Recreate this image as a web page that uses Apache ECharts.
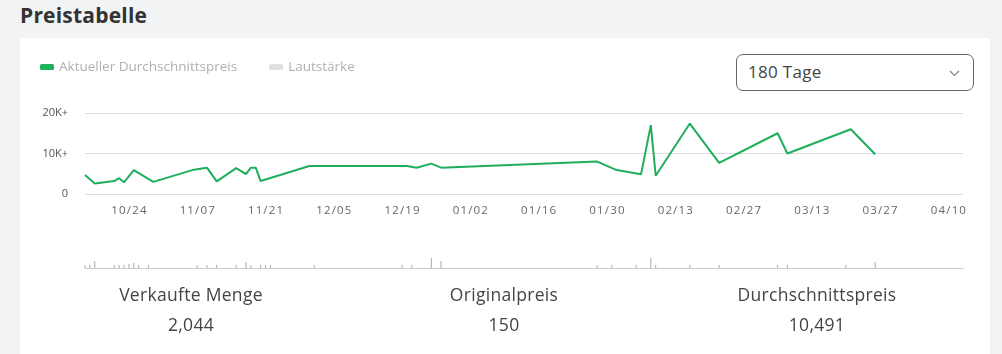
<!DOCTYPE html>
<html>
<head>
<meta charset="utf-8">
<script src="https://cdn.jsdelivr.net/npm/echarts@6/dist/echarts.min.js"></script>
<style>
  html, body { margin: 0; padding: 0; width: 1002px; height: 354px; overflow: hidden; background: #f2f3f5; font-family: "Open Sans", Lato, sans-serif; }
  #title { position: absolute; left: 20px; top: 1px; font-size: 21px; font-weight: 700; color: #333; letter-spacing: 0.2px; }
  #card { position: absolute; left: 20px; top: 38px; width: 970px; height: 330px; background: #fff; border-radius: 3px; }
  #chart { position: absolute; left: 20px; top: 38px; width: 970px; height: 250px; }
  #dropdown { position: absolute; left: 736px; top: 54px; width: 236px; height: 35px; border: 1px solid #666; border-radius: 7px; background: #fff; box-sizing: content-box; }
  #dropdown span { position: absolute; left: 11px; top: 5px; font-size: 17px; color: #444; letter-spacing: 0.3px; }
  #dropdown svg { position: absolute; right: 13px; top: 15px; }
  .stat { position: absolute; width: 260px; text-align: center; color: #444; font-size: 17.5px; letter-spacing: 0.3px; }
  .lab { top: 282px; }
  .val { top: 312px; }
</style>
</head>
<body>
<div id="title">Preistabelle</div>
<div id="card"></div>
<div id="chart"></div>
<div id="dropdown"><span>180 Tage</span>
  <svg width="11" height="7" viewBox="0 0 11 7"><polyline points="1,1 5.5,5.5 10,1" fill="none" stroke="#888" stroke-width="1.2"/></svg>
</div>
<div class="stat lab" style="left:61px">Verkaufte Menge</div>
<div class="stat val" style="left:61px">2,044</div>
<div class="stat lab" style="left:374px">Originalpreis</div>
<div class="stat val" style="left:374px">150</div>
<div class="stat lab" style="left:687px">Durchschnittspreis</div>
<div class="stat val" style="left:687px">10,491</div>
<script>
// Axis range (first and last day shown) and tick labels
const startDate = '2024-10-15';
const endDate = '2025-04-13';
const tickLabels = ['10/24','11/07','11/21','12/05','12/19','01/02','01/16','01/30','02/13','02/27','03/13','03/27','04/10'];

// Average price series
const priceDates  = ['10/15','10/17','10/21','10/22','10/23','10/25','10/29','11/06','11/09','11/11','11/15','11/17','11/18','11/19','11/20','11/30','12/20','12/22','12/25','12/27','01/28','02/01','02/06','02/08','02/09','02/16','02/22','03/06','03/08','03/21','03/26'];
const priceValues = [4700,2600,3200,3900,2900,5900,3000,5900,6500,3100,6400,4900,6500,6500,3200,6900,6900,6500,7500,6500,8000,5900,4900,17000,4500,17400,7700,15000,10000,16000,9800];

// Volume series
const volDates  = ['10/15','10/16','10/17','10/21','10/22','10/23','10/24','10/25','10/26','10/28','11/07','11/09','11/11','11/15','11/17','11/18','11/20','11/21','11/22','12/01','12/19','12/21','12/25','12/27','01/28','01/31','02/05','02/08','02/09','02/16','02/22','03/06','03/08','03/20','03/26'];
const volValues = [3,3,7,3,3,3,4,5,3,3,3,3,3,3,6,3,3,3,3,3,3,3,10,7,3,3,3,10,3,3,3,3,3,3,6];

// Build category list (one per day)
const categories = [];
{
  const d = new Date(startDate + 'T00:00:00Z');
  const e = new Date(endDate + 'T00:00:00Z');
  while (d <= e) {
    const mm = String(d.getUTCMonth() + 1).padStart(2, '0');
    const dd = String(d.getUTCDate()).padStart(2, '0');
    categories.push(mm + '/' + dd);
    d.setUTCDate(d.getUTCDate() + 1);
  }
}
const tickSet = new Set(tickLabels);

const chart = echarts.init(document.getElementById('chart'));
const FONT = '"Open Sans", Lato, sans-serif';
chart.setOption({
  animation: false,
  textStyle: { fontFamily: FONT },
  legend: {
    left: 15, top: 17,
    itemWidth: 14, itemHeight: 6, itemGap: 32,
    textStyle: { color: '#b0b0b0', fontSize: 13.5, fontFamily: FONT },
    data: [
      { name: 'Aktueller Durchschnittspreis', icon: 'roundRect', itemStyle: { color: '#1db35c' } },
      { name: 'Lautstärke', icon: 'roundRect', itemStyle: { color: '#e0e0e0' } }
    ]
  },
  grid: [
    { left: 65, width: 878, top: 75, height: 81 },
    { left: 65, width: 878, top: 210, height: 20 }
  ],
  xAxis: [
    {
      type: 'category', gridIndex: 0, data: categories, boundaryGap: false,
      axisLine: { show: false }, axisTick: { show: false },
      axisLabel: {
        color: '#666', fontSize: 11.5, margin: 11, fontFamily: FONT,
        interval: (i, v) => tickSet.has(v),
        formatter: v => v.split('').join('\u200A')
      },
      splitLine: { show: false }
    },
    {
      type: 'category', gridIndex: 1, data: categories, boundaryGap: false,
      axisLine: { show: true, lineStyle: { color: '#c8ccd2', width: 1 } },
      axisTick: { show: false }, axisLabel: { show: false }, splitLine: { show: false }
    }
  ],
  yAxis: [
    {
      type: 'value', gridIndex: 0, min: 0, max: 20000, interval: 10000,
      axisLine: { show: false }, axisTick: { show: false },
      axisLabel: { color: '#555', fontSize: 11, margin: 17, fontFamily: FONT,
        formatter: v => v === 0 ? '0' : (v / 1000) + 'K+' },
      splitLine: { lineStyle: { color: '#dcdcdc', width: 1 } }
    },
    {
      type: 'value', gridIndex: 1, min: 0, max: 20,
      axisLine: { show: false }, axisTick: { show: false }, axisLabel: { show: false },
      splitLine: { show: false }
    }
  ],
  series: [
    {
      name: 'Aktueller Durchschnittspreis', type: 'line', xAxisIndex: 0, yAxisIndex: 0,
      data: priceDates.map((d, i) => [d, priceValues[i]]),
      showSymbol: false, symbol: 'none',
      lineStyle: { color: '#1fae5b', width: 2 },
      itemStyle: { color: '#1db35c' }
    },
    {
      name: 'Lautstärke', type: 'bar', xAxisIndex: 1, yAxisIndex: 1,
      data: volDates.map((d, i) => [d, volValues[i]]),
      barWidth: 1,
      itemStyle: { color: '#a8a8a8' }
    }
  ]
});
</script>
</body>
</html>
